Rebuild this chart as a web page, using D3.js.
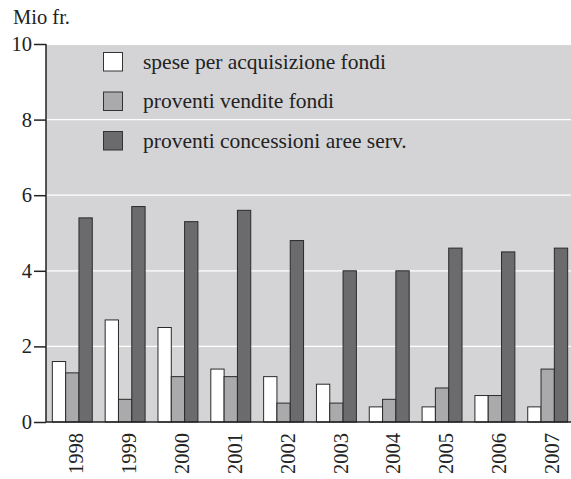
<!DOCTYPE html>
<html><head><meta charset="utf-8">
<script src="https://cdn.jsdelivr.net/npm/d3@7"></script>
<style>body{margin:0;background:#fff}svg{display:block}</style>
</head><body>
<svg id="chart" width="571" height="479" font-family="Liberation Serif">
<text x="13" y="24" font-size="20.5" font-family="Liberation Serif" fill="#222">Mio fr.</text>
</svg>
<script>
const years = ["1998","1999","2000","2001","2002","2003","2004","2005","2006","2007"];
const seriesNames = ["spese per acquisizione fondi","proventi vendite fondi","proventi concessioni aree serv."];
const spese = [1.6,2.7,2.5,1.4,1.2,1.0,0.4,0.4,0.7,0.4];
const vendite = [1.3,0.6,1.2,1.2,0.5,0.5,0.6,0.9,0.7,1.4];
const concessioni = [5.4,5.7,5.3,5.6,4.8,4.0,4.0,4.6,4.5,4.6];
const yTicks = [0,2,4,6,8,10];
const colors = ["#ffffff","#aaaaac","#6b6b6d"];
const seriesValues = [spese, vendite, concessioni];

(function(){
const FONT="Liberation Serif";
const svg=d3.select("#chart");
const pL=46, pR=571, pT=44, pB=422;
const x=d3.scaleBand().domain(years).range([pL,574]).paddingInner(0.244).paddingOuter(0.12);
const xs=d3.scaleBand().domain([0,1,2]).range([0,x.bandwidth()]);
const y=d3.scaleLinear().domain([0,10]).range([pB,pT]);

svg.append("rect").attr("x",pL).attr("y",y(10)+1).attr("width",pR-pL).attr("height",pB-y(10)-1).attr("fill","#d4d4d6");
svg.append("g").selectAll("line").data(yTicks.filter(d=>d>0&&d<10)).join("line")
 .attr("x1",pL).attr("x2",pR).attr("y1",d=>y(d)).attr("y2",d=>y(d)).attr("stroke","#fff").attr("stroke-width",1.2);

// legend
const lg=svg.append("g");
seriesNames.forEach((n,i)=>{
  const yy=52.5+i*39.5;
  lg.append("rect").attr("x",103.5).attr("y",yy).attr("width",19).attr("height",18.5).attr("fill",colors[i]).attr("stroke","#333").attr("stroke-width",1);
  lg.append("text").attr("x",143).attr("y",yy+16).attr("font-size",21.5).attr("font-family",FONT).attr("fill","#222").text(n);
});

// bars
const g=svg.append("g");
years.forEach((yr,i)=>{
  seriesValues.forEach((vals,s)=>{
    g.append("rect").attr("x",x(yr)+xs(s)).attr("y",y(vals[i])).attr("width",xs.bandwidth()).attr("height",y(0)-y(vals[i]))
     .attr("fill",colors[s]).attr("stroke","#2a2a2a").attr("stroke-width",1);
  });
});

// y axis
const ya=svg.append("g").attr("transform",`translate(${pL},0)`)
 .call(d3.axisLeft(y).tickValues(yTicks).tickSize(12).tickPadding(2).tickFormat(d3.format("d")));
ya.attr("font-family",FONT);
ya.select(".domain").remove();
ya.append("line").attr("x1",0).attr("x2",0).attr("y1",y(10)).attr("y2",y(0)).attr("stroke","#222").attr("stroke-width",1.5);
ya.selectAll(".tick line").attr("stroke","#222").attr("stroke-width",1.5);
ya.selectAll("text").attr("font-size",20.5).attr("fill","#222").attr("font-family",FONT);
svg.append("line").attr("x1",pL).attr("x2",pR).attr("y1",y(0)).attr("y2",y(0)).attr("stroke","#222").attr("stroke-width",1.5);

// x axis labels
const xa=svg.append("g").attr("transform",`translate(0,${pB})`)
 .call(d3.axisBottom(x).tickSize(0).tickPadding(0));
xa.attr("font-family",FONT);
xa.select(".domain").remove();
xa.selectAll("text").attr("font-size",20.5).attr("fill","#222").attr("font-family",FONT)
 .attr("text-anchor","end").attr("transform","rotate(-90)").attr("x",-11).attr("y",0).attr("dy","0.35em");
xa.selectAll(".tick").attr("transform",d=>`translate(${x(d)+x.bandwidth()/2+4},0)`);
})();
</script>
</body></html>
